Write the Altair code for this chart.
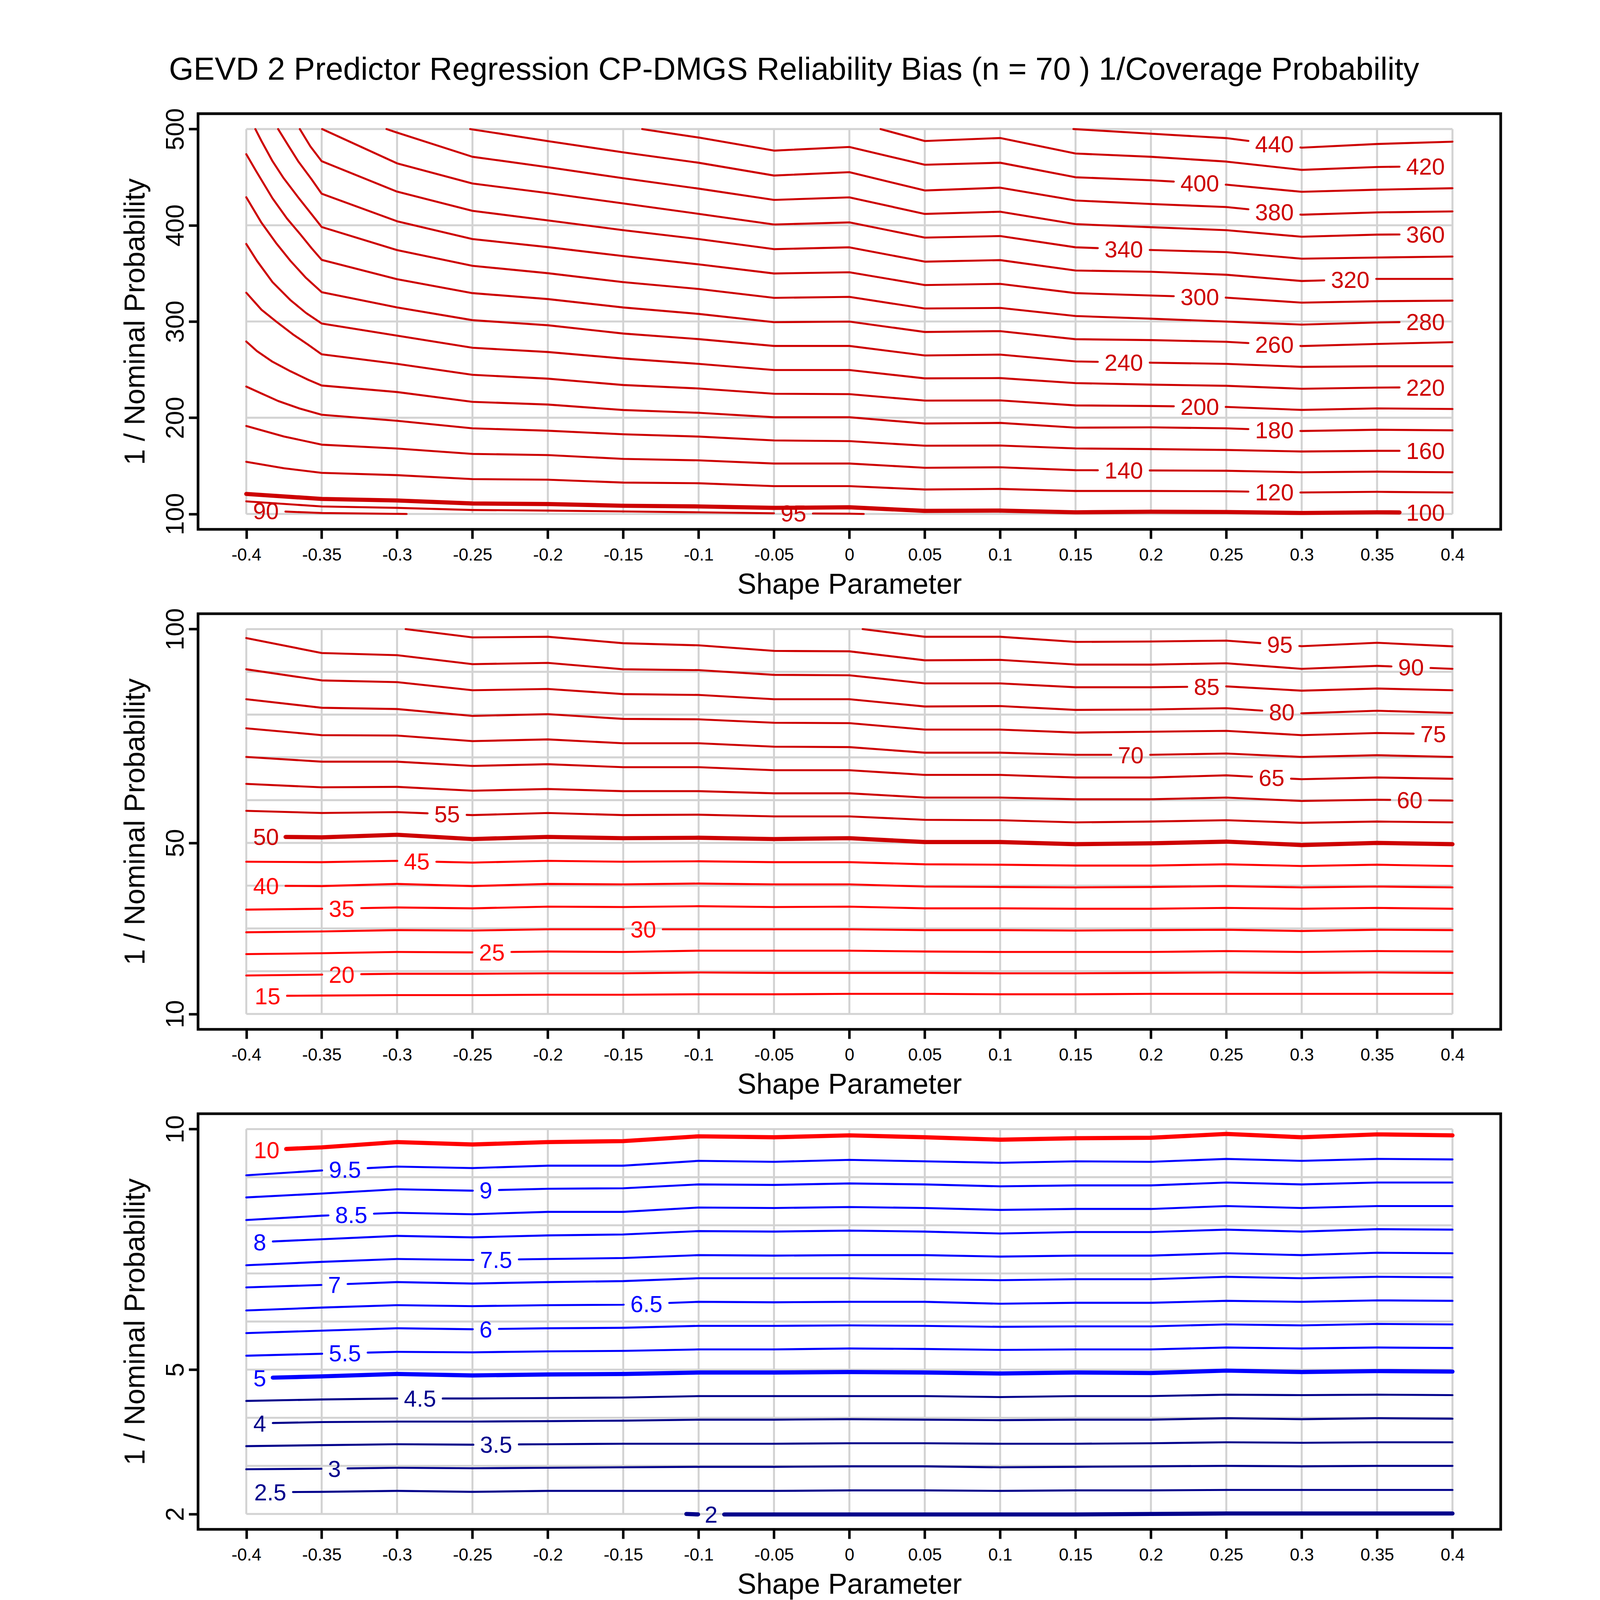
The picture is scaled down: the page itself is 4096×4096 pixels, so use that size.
import altair as alt
import pandas as pd

S = 4096 / 4800.0
FONT = "Liberation Sans"

TITLE = "GEVD 2 Predictor Regression CP-DMGS Reliability Bias (n = 70 ) 1/Coverage Probability"
X_TITLE = "Shape Parameter"
Y_TITLE = "1 / Nominal Probability"

X_GRID = [-0.4, -0.35, -0.3, -0.25, -0.2, -0.15, -0.1, -0.05, 0, 0.05, 0.1, 0.15, 0.2, 0.25, 0.3, 0.35, 0.4]

P1_YGRID = [100, 200, 300, 400, 500]
P2_YGRID = [10, 20, 30, 40, 50, 60, 70, 80, 90, 100]
P3_YGRID = [2, 3, 4, 5, 6, 7, 8, 9, 10]
P1_YTICKS = [100, 200, 300, 400, 500]
P2_YTICKS = [10, 50, 100]
P3_YTICKS = [2, 5, 10]

# ---------------- panel 1 contours (x list, y list) ----------------
P1_LINES = {
    "90": ([-0.4, -0.35, -0.2937], [104, 101, 100]),
    "95": (X_GRID[:9] + [0.0095], [113.1, 107.8, 106.3, 104.1, 103.5, 102.6, 101.7, 100.7, 100.3, 100.0]),
    "100": (X_GRID, [120.8, 115.6, 114, 110.9, 110.3, 108.5, 107.8, 106.3, 106.9, 103.2, 103.5, 101.7, 102.3, 102, 101, 101.7, 101.3]),
    "120": ([-0.4, -0.375] + X_GRID[1:], [154.2, 147.5, 142.7, 140.3, 136.2, 135.6, 132.6, 131.9, 128.9, 128.9, 125.4, 126, 123.9, 123.9, 123.6, 122.3, 123, 122.3]),
    "140": ([-0.4, -0.375] + X_GRID[1:], [191.4, 180.5, 172, 168, 162.4, 161.2, 157.2, 155.7, 152.4, 152.4, 148, 148.5, 145.5, 145.2, 144.9, 143.3, 144, 143.3]),
    "160": ([-0.4, -0.3899, -0.3789, -0.3649] + X_GRID[1:], [232.4, 225.2, 217.4, 209.7, 203.1, 196.8, 189, 186.5, 182.8, 180.4, 176.4, 175.7, 170.9, 171.1, 168.1, 167.4, 166.5, 164.9, 165.6, 165.6]),
    "180": ([-0.4, -0.3929, -0.3826, -0.3707, -0.359] + X_GRID[1:], [279.2, 269.2, 258.2, 248.3, 239.5, 233.5, 226.7, 216.5, 213.7, 208, 205.1, 200.5, 200.5, 194, 194.6, 189.7, 190, 189, 186.2, 187.5, 186.9]),
    "200": ([-0.4, -0.3899, -0.3803, -0.3693, -0.359] + X_GRID[1:], [329.9, 312.2, 300.1, 286.9, 275.9, 265.9, 256, 244.6, 240.6, 234, 230.4, 224.9, 224.5, 217.8, 218, 212.8, 212.2, 211.2, 208.1, 209.7, 209.1]),
    "220": ([-0.4, -0.3929, -0.3826, -0.3707, -0.3604] + X_GRID[1:], [380.6, 363, 340.9, 322.2, 308.9, 297.9, 285.3, 272.7, 268.3, 261.5, 256, 249.6, 249.6, 240.9, 241.2, 236, 234.4, 233.2, 230.1, 231.3, 231.9]),
    "240": ([-0.4, -0.3899, -0.3803, -0.3707, -0.3604] + X_GRID[1:], [429.1, 402.6, 381.7, 363, 345.3, 330.5, 314.6, 301.4, 296.1, 287.5, 281.7, 274.6, 274.6, 264.7, 265.6, 258.5, 257.2, 256, 252.9, 253.5, 253.5]),
    "260": ([-0.4, -0.3936, -0.3826, -0.373, -0.3641, -0.3567] + X_GRID[1:], [473.9, 456.6, 428, 407, 390.5, 376.2, 364.1, 344, 329.5, 323.3, 314.6, 307.9, 299.3, 299.9, 289.1, 290, 281.6, 280.7, 278.9, 274.5, 276.7, 278.5]),
    "280": ([-0.394, -0.3899, -0.3826, -0.3752, -0.3656, -0.3567] + X_GRID[1:], [500, 487.5, 466.6, 448.9, 429.1, 411.5, 398.2, 374.2, 357.9, 350.2, 340.9, 333.8, 324.6, 325.6, 313.5, 314.1, 305.7, 302.9, 299.9, 296.8, 299, 300.2]),
    "300": ([-0.3789, -0.3722, -0.3656, -0.3567] + X_GRID[1:], [500, 483.1, 466.6, 447.8, 432.8, 404.2, 385.7, 377.3, 368, 359.4, 349.9, 351.2, 337.9, 339.1, 329.5, 327, 324.8, 319.6, 321.1, 321.7]),
    "320": ([-0.3645, -0.3575] + X_GRID[1:], [500, 482, 466.6, 435, 415, 405.1, 394.9, 385.7, 375.2, 377.1, 362.2, 363.8, 353, 351.7, 348.6, 342.1, 344.3, 344.3]),
    "340": ([-0.3497] + X_GRID[2:], [500, 464.4, 443.4, 433.5, 422.7, 411.9, 400.8, 403, 387.2, 388.8, 377.1, 374.3, 372.1, 365.3, 366.5, 367.5]),
    "360": ([-0.307] + X_GRID[2:], [500, 496.3, 471.2, 460.4, 448.9, 438.1, 426.4, 429, 411.8, 414.1, 401.2, 398, 394.9, 388.1, 390.3, 390.9]),
    "380": ([-0.2515] + X_GRID[4:], [500, 487.5, 475.8, 465, 451.7, 455.2, 436.2, 439.1, 425.8, 422.1, 419, 411, 413.4, 414.4]),
    "400": ([-0.1374] + X_GRID[6:], [500, 491.2, 477.6, 481.4, 462.9, 465, 449.9, 446.8, 442.2, 434.8, 437, 438.5]),
    "420": ([0.0207] + X_GRID[9:], [500, 487.6, 490.7, 474.6, 471.2, 466.2, 457.6, 460.6, 461.6]),
    "440": ([0.1486] + X_GRID[12:], [500, 495.2, 490.6, 480.7, 484.5, 486.9]),
}
P1_LABEL_X = {
    "90": -0.387, "95": -0.0371, "100": 0.3821, "120": 0.2819, "140": 0.182,
    "160": 0.3821, "180": 0.2819, "200": 0.2324, "220": 0.3821, "240": 0.182,
    "260": 0.2819, "280": 0.3821, "300": 0.2324, "320": 0.3322, "340": 0.182,
    "360": 0.3821, "380": 0.2819, "400": 0.2324, "420": 0.3821, "440": 0.2819,
}

# ---------------- panel 2 contours ----------------
P2_LINES = {
    "95": ([0.0088] + X_GRID[9:], [100, 98.2, 98.2, 97, 97.1, 97.3, 96, 96.8, 95.96]),
    "90": ([-0.2943] + X_GRID[3:], [100, 98.05, 98.2, 96.7, 96.2, 94.9, 94.8, 92.7, 92.8, 91.7, 91.7, 92, 90.7, 91.4, 90.7]),
    "85": (X_GRID, [97.9, 94.4, 93.9, 91.8, 92.1, 90.6, 90.4, 89.3, 89.2, 87.3, 87.3, 86.4, 86.4, 86.6, 85.6, 86.1, 85.7]),
    "80": (X_GRID, [90.6, 88, 87.6, 85.7, 86, 84.8, 84.6, 83.6, 83.6, 81.9, 82, 81.1, 81.2, 81.5, 80.3, 80.9, 80.4]),
    "75": (X_GRID, [83.6, 81.6, 81.3, 79.7, 80.1, 79, 78.9, 78.1, 78, 76.5, 76.5, 75.8, 76, 76.2, 75.2, 75.7, 75.4]),
    "70": (X_GRID, [76.8, 75.2, 75.1, 73.8, 74.2, 73.3, 73.3, 72.5, 72.4, 71.1, 71.1, 70.6, 70.6, 70.9, 70.1, 70.5, 70.1]),
    "65": (X_GRID, [70.1, 69, 69, 68, 68.4, 67.7, 67.7, 67, 67, 65.9, 65.9, 65.3, 65.3, 65.8, 64.9, 65.3, 65]),
    "60": (X_GRID, [63.8, 63, 63.1, 62.2, 62.6, 62.1, 62.1, 61.6, 61.6, 60.6, 60.6, 60.2, 60.2, 60.6, 59.8, 60.1, 59.9]),
    "55": (X_GRID, [57.5, 57, 57.2, 56.5, 57, 56.5, 56.6, 56.2, 56.2, 55.4, 55.3, 54.8, 55, 55.3, 54.7, 55, 54.8]),
    "50": (X_GRID, [51.5, 51.3, 51.9, 50.9, 51.4, 51.1, 51.2, 50.9, 51.1, 50.2, 50.2, 49.7, 49.9, 50.3, 49.5, 50, 49.7]),
    "45": (X_GRID, [45.6, 45.5, 45.8, 45.4, 45.8, 45.6, 45.7, 45.5, 45.5, 45, 44.9, 44.7, 44.7, 45, 44.6, 44.9, 44.6]),
    "40": (X_GRID, [40, 39.9, 40.4, 39.9, 40.4, 40.3, 40.5, 40.3, 40.3, 39.8, 39.7, 39.6, 39.7, 39.9, 39.6, 39.8, 39.6]),
    "35": (X_GRID, [34.4, 34.6, 34.9, 34.7, 35.1, 35, 35.2, 35, 35.1, 34.7, 34.7, 34.6, 34.6, 34.8, 34.6, 34.8, 34.6]),
    "30": (X_GRID, [29.1, 29.3, 29.6, 29.5, 29.8, 29.8, 29.8, 29.8, 29.8, 29.6, 29.6, 29.5, 29.6, 29.7, 29.4, 29.7, 29.6]),
    "25": (X_GRID, [24, 24.2, 24.5, 24.4, 24.6, 24.5, 24.8, 24.8, 24.8, 24.6, 24.5, 24.5, 24.5, 24.7, 24.5, 24.7, 24.6]),
    "20": (X_GRID, [19, 19.2, 19.4, 19.4, 19.5, 19.5, 19.7, 19.6, 19.6, 19.6, 19.5, 19.5, 19.6, 19.7, 19.6, 19.7, 19.6]),
    "15": (X_GRID, [14.2, 14.3, 14.4, 14.4, 14.5, 14.5, 14.6, 14.6, 14.7, 14.7, 14.6, 14.6, 14.7, 14.7, 14.7, 14.7, 14.7]),
}
P2_LABEL_X = {
    "95": 0.2855, "90": 0.3725, "85": 0.237, "80": 0.2868, "75": 0.3872,
    "70": 0.1866, "65": 0.28, "60": 0.3716, "55": -0.2668, "50": -0.3869,
    "45": -0.2869, "40": -0.3869, "35": -0.3367, "30": -0.1367, "25": -0.2371,
    "20": -0.3367, "15": -0.3859,
}

# ---------------- panel 3 contours ----------------
P3_LINES = {
    "10": (X_GRID, [9.55, 9.62, 9.73, 9.68, 9.73, 9.75, 9.85, 9.83, 9.87, 9.83, 9.78, 9.81, 9.82, 9.9, 9.83, 9.89, 9.87]),
    "9.5": (X_GRID, [9.04, 9.14, 9.22, 9.19, 9.24, 9.24, 9.34, 9.32, 9.36, 9.33, 9.3, 9.33, 9.32, 9.38, 9.34, 9.38, 9.37]),
    "9": (X_GRID, [8.58, 8.66, 8.75, 8.72, 8.76, 8.77, 8.85, 8.84, 8.87, 8.85, 8.81, 8.83, 8.83, 8.89, 8.85, 8.89, 8.89]),
    "8.5": (X_GRID, [8.11, 8.2, 8.26, 8.23, 8.28, 8.28, 8.37, 8.36, 8.38, 8.36, 8.32, 8.34, 8.34, 8.4, 8.36, 8.4, 8.4]),
    "8": (X_GRID, [7.64, 7.71, 7.78, 7.75, 7.79, 7.81, 7.88, 7.87, 7.89, 7.87, 7.83, 7.86, 7.86, 7.91, 7.87, 7.92, 7.91]),
    "7.5": (X_GRID, [7.17, 7.24, 7.3, 7.28, 7.3, 7.32, 7.38, 7.37, 7.38, 7.38, 7.35, 7.37, 7.37, 7.42, 7.38, 7.43, 7.42]),
    "7": (X_GRID, [6.71, 6.76, 6.82, 6.79, 6.82, 6.84, 6.9, 6.9, 6.9, 6.88, 6.86, 6.88, 6.88, 6.93, 6.9, 6.93, 6.92]),
    "6.5": (X_GRID, [6.23, 6.29, 6.34, 6.32, 6.34, 6.35, 6.41, 6.4, 6.41, 6.41, 6.37, 6.39, 6.39, 6.43, 6.41, 6.44, 6.43]),
    "6": (X_GRID, [5.76, 5.81, 5.86, 5.84, 5.86, 5.87, 5.91, 5.91, 5.92, 5.91, 5.89, 5.9, 5.9, 5.94, 5.92, 5.95, 5.94]),
    "5.5": (X_GRID, [5.29, 5.33, 5.37, 5.36, 5.38, 5.39, 5.42, 5.42, 5.44, 5.43, 5.41, 5.42, 5.42, 5.46, 5.44, 5.46, 5.45]),
    "5": (X_GRID, [4.82, 4.86, 4.91, 4.88, 4.9, 4.91, 4.94, 4.94, 4.95, 4.94, 4.92, 4.94, 4.93, 4.98, 4.95, 4.97, 4.96]),
    "4.5": (X_GRID, [4.35, 4.38, 4.4, 4.4, 4.41, 4.42, 4.45, 4.45, 4.45, 4.45, 4.43, 4.45, 4.45, 4.48, 4.47, 4.48, 4.47]),
    "4": (X_GRID, [3.88, 3.91, 3.92, 3.92, 3.93, 3.94, 3.96, 3.96, 3.97, 3.96, 3.95, 3.96, 3.96, 3.99, 3.97, 3.99, 3.98]),
    "3.5": (X_GRID, [3.41, 3.43, 3.45, 3.44, 3.45, 3.46, 3.46, 3.46, 3.47, 3.47, 3.46, 3.46, 3.47, 3.49, 3.48, 3.49, 3.49]),
    "3": (X_GRID, [2.93, 2.94, 2.96, 2.95, 2.96, 2.97, 2.98, 2.98, 2.99, 2.99, 2.97, 2.98, 2.99, 3, 2.99, 3, 3]),
    "2.5": (X_GRID, [2.45, 2.46, 2.48, 2.46, 2.48, 2.48, 2.48, 2.48, 2.49, 2.49, 2.48, 2.49, 2.49, 2.5, 2.5, 2.5, 2.5]),
    "2": ([-0.1081] + X_GRID[6:], [2.0, 1.99, 1.99, 1.99, 1.99, 1.99, 1.99, 2.0, 2.01, 2.01, 2.01, 2.01]),
}
P3_LABEL_X = {
    "10": -0.3865, "9.5": -0.3346, "9": -0.2411, "8.5": -0.3304, "8": -0.3911,
    "7.5": -0.2343, "7": -0.3415, "6.5": -0.1346, "6": -0.2411, "5.5": -0.3346,
    "5": -0.3911, "4.5": -0.2848, "4": -0.3911, "3.5": -0.2343, "3": -0.3415,
    "2.5": -0.3841, "2": -0.0917,
}

RED3, RED, BLUE, NAVY = "#CD0000", "#FF0000", "#0000FF", "#00008B"
P1_COLOR = {k: RED3 for k in P1_LINES}
P2_COLOR = {k: (RED3 if float(k) >= 50 else RED) for k in P2_LINES}
P3_COLOR = {k: (RED if float(k) >= 10 else (BLUE if float(k) >= 5 else NAVY)) for k in P3_LINES}
P1_THICK = {"100"}
P2_THICK = {"50"}
P3_THICK = {"10", "5", "2"}

# ---------------- geometry / styles (output pixels) ----------------
W = 3908 * S
H = 1247 * S
SPACING = 252 * S
X_DOMAIN = [-0.432, 0.432]
PX_PER_X = W / (X_DOMAIN[1] - X_DOMAIN[0])
THIN_W = 6.0 * S
THICK_W = 12.5 * S
GRID_W = 6.0 * S
FRAME_W = 8.0 * S
TICK_W = 7.5 * S
TICK_LEN = 28 * S
LABEL_FS = 69.5 * S
GAP_PAD = 20 * S
FRAME_LEFT = 589 * S
FRAME_TOP = 336 * S


def text_width(s):
    return sum(0.278 if c == "." else 0.556 for c in s) * LABEL_FS


def interp(xs, ys, x):
    if x <= xs[0]:
        return ys[0]
    if x >= xs[-1]:
        return ys[-1]
    for i in range(len(xs) - 1):
        if xs[i] <= x <= xs[i + 1]:
            t = (x - xs[i]) / (xs[i + 1] - xs[i])
            return ys[i] + t * (ys[i + 1] - ys[i])
    return ys[-1]


def split_line(xs, ys, gap):
    """Cut the polyline where its label sits (the gap a..b along x)."""
    a, b = gap
    pts = sorted(set(xs) | {g for g in (a, b) if xs[0] < g < xs[-1]})
    pts = [x for x in pts if not (a < x < b)]
    segs, cur = [], []
    for j, x in enumerate(pts):
        if j > 0:
            mid = (pts[j - 1] + x) / 2
            if a < mid < b:
                segs.append(cur)
                cur = []
        cur.append((x, interp(xs, ys, x)))
    segs.append(cur)
    return [s for s in segs if len(s) >= 2 and s[-1][0] - s[0][0] > 0.004]


def build(lines, label_x, colors, thick):
    rows, labs = [], []
    for name, (xs, ys) in lines.items():
        lx = label_x[name]
        hw = (text_width(name) / 2 + GAP_PAD) / PX_PER_X
        col = colors[name]
        w = THICK_W if name in thick else THIN_W
        for k, seg in enumerate(split_line(xs, ys, (lx - hw, lx + hw))):
            for i, (x, y) in enumerate(seg):
                rows.append({"x": x, "y": y, "seg": f"{name}_{k}", "i": i, "c": col, "w": w})
        labs.append({"x": lx, "y": interp(xs, ys, lx), "t": name, "c": col})
    return pd.DataFrame(rows), pd.DataFrame(labs)


def grid_df(ygrid):
    rows = [{"x": v, "x2": v, "y": ygrid[0], "y2": ygrid[-1]} for v in X_GRID]
    rows += [{"x": X_GRID[0], "x2": X_GRID[-1], "y": v, "y2": v} for v in ygrid]
    return pd.DataFrame(rows)


X_AXIS = alt.Axis(
    values=X_GRID, labelExpr="'' + datum.value", title=X_TITLE, grid=False, domain=False,
    ticks=True, tickSize=TICK_LEN, tickWidth=TICK_W, tickColor="black",
    labelFont=FONT, labelFontSize=52 * S, labelColor="black",
    labelPadding=93 * S - TICK_LEN, labelBaseline="alphabetic", labelAlign="center",
    labelFlush=False, labelOverlap=False,
    titleFont=FONT, titleFontSize=86 * S, titleFontWeight="normal", titleColor="black",
    titleX=W / 2, titleY=193 * S, titleAlign="center", titleBaseline="alphabetic", titleAngle=0,
)


def y_axis(ticks):
    return alt.Axis(
        values=ticks, title=Y_TITLE, grid=False, domain=False,
        ticks=True, tickSize=TICK_LEN, tickWidth=TICK_W, tickColor="black",
        labelFont=FONT, labelFontSize=76 * S, labelColor="black",
        labelAngle=270, labelAlign="center", labelBaseline="alphabetic",
        labelPadding=44 * S - TICK_LEN, labelFlush=False, labelOverlap=False,
        titleFont=FONT, titleFontSize=86 * S, titleFontWeight="normal", titleColor="black",
        titleAngle=270, titleX=-(589 - 428) * S, titleY=H / 2,
        titleAlign="center", titleBaseline="alphabetic",
    )


def panel(lines, label_x, colors, thick, ygrid, yticks, extra=None):
    ext = 0.04 * (ygrid[-1] - ygrid[0])
    xs = alt.Scale(domain=X_DOMAIN, nice=False, zero=False)
    ys = alt.Scale(domain=[ygrid[0] - ext, ygrid[-1] + ext], nice=False, zero=False)
    X = alt.X("x:Q", scale=xs, axis=X_AXIS)
    Y = alt.Y("y:Q", scale=ys, axis=y_axis(yticks))
    ldf, labdf = build(lines, label_x, colors, thick)

    grid = alt.Chart(grid_df(ygrid)).mark_rule(color="#D3D3D3", strokeWidth=GRID_W).encode(
        x=X, x2="x2:Q", y=Y, y2="y2:Q")
    contour = alt.Chart(ldf).mark_line(strokeCap="round", strokeJoin="round").encode(
        x=X, y=Y, detail="seg:N", order="i:Q",
        color=alt.Color("c:N", scale=None), strokeWidth=alt.StrokeWidth("w:Q", scale=None))
    labels = alt.Chart(labdf).mark_text(
        font=FONT, fontSize=LABEL_FS, align="center", baseline="alphabetic", dy=0.358 * LABEL_FS
    ).encode(x=X, y=Y, text="t:N", color=alt.Color("c:N", scale=None))
    layers = [grid, contour, labels] + (extra or [])
    return alt.layer(*layers).properties(width=W, height=H)


one = pd.DataFrame({"t": [TITLE]})
title_layer = alt.Chart(one).mark_text(
    font=FONT, fontSize=95 * S, align="center", baseline="alphabetic", color="black"
).encode(x=alt.value((2377 - 589) * S), y=alt.value((234 - 336) * S), text="t:N")
anchor = alt.Chart(one).mark_rect(color="white").encode(
    x=alt.value(-(FRAME_LEFT - 8)), x2=alt.value(-(FRAME_LEFT - 8) + 1),
    y=alt.value(-(FRAME_TOP - 8)), y2=alt.value(-(FRAME_TOP - 8) + 1))

p1 = panel(P1_LINES, P1_LABEL_X, P1_COLOR, P1_THICK, P1_YGRID, P1_YTICKS, [title_layer, anchor])
p2 = panel(P2_LINES, P2_LABEL_X, P2_COLOR, P2_THICK, P2_YGRID, P2_YTICKS)
p3 = panel(P3_LINES, P3_LABEL_X, P3_COLOR, P3_THICK, P3_YGRID, P3_YTICKS)

chart = alt.vconcat(p1, p2, p3, spacing=SPACING, bounds="flush").properties(
    padding=0, background="white"
).configure_view(stroke="black", strokeWidth=FRAME_W)

chart.save("out.html", embed_options={"renderer": "svg", "actions": False})
